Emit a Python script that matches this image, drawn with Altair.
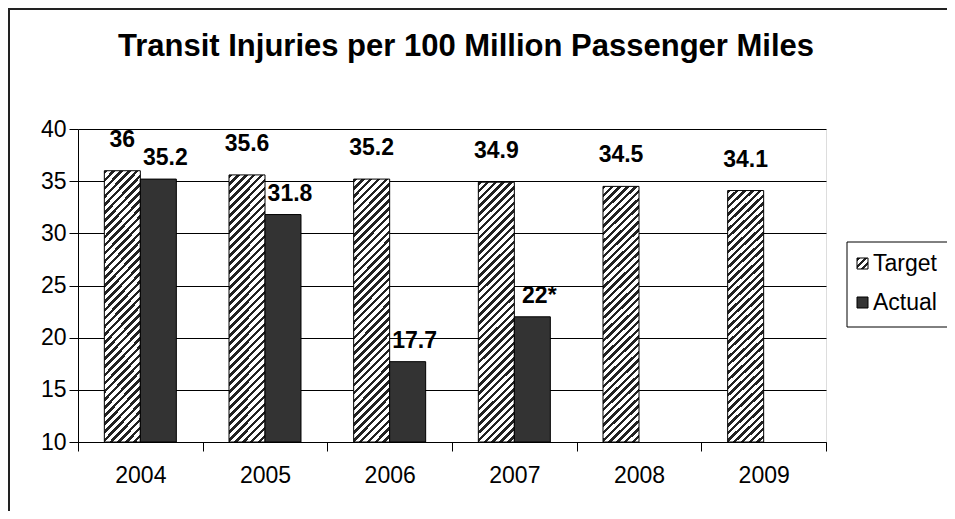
import altair as alt
import pandas as pd

# ---- data ----
years = ["2004", "2005", "2006", "2007", "2008", "2009"]
target = [36, 35.6, 35.2, 34.9, 34.5, 34.1]
target_labels = ["36", "35.6", "35.2", "34.9", "34.5", "34.1"]
actual_years = ["2004", "2005", "2006", "2007"]
actual = [35.2, 31.8, 17.7, 22]
actual_labels = ["35.2", "31.8", "17.7", "22*"]
series = ["Target", "Actual"]
y_ticks = [10, 15, 20, 25, 30, 35, 40]
title_text = "Transit Injuries per 100 Million Passenger Miles"

rows = []
for y, v, l in zip(years, target, target_labels):
    rows.append({"year": y, "series": "Target", "value": v, "label": l})
for y, v, l in zip(actual_years, actual, actual_labels):
    rows.append({"year": y, "series": "Actual", "value": v, "label": l})
df = pd.DataFrame(rows)

FONT = "Liberation Sans"
W, H = 748, 313


def hatch(w, h, period=7.8, frac=0.45, dark="#222222", light="#ffffff"):
    """Diagonal '/' stripes as a hard-stop linear gradient (bounding-box units)."""
    gx, gy = w / h, 1.0
    s = (gx + gy) / (gx * gx + gy * gy)
    n = max(1, round((w + h) / period))
    stops = []
    for i in range(n):
        a = i / n
        b = min(1.0, (i + frac) / n)
        c = min(1.0, (i + 1) / n)
        stops += [
            alt.GradientStop(offset=a, color=dark),
            alt.GradientStop(offset=b, color=dark),
            alt.GradientStop(offset=b, color=light),
            alt.GradientStop(offset=c, color=light),
        ]
    return alt.LinearGradient(gradient="linear", stops=stops,
                              x1=0, y1=0, x2=gx * s, y2=gy * s)


x_enc = alt.X("year:N", sort=years,
              scale=alt.Scale(domain=years, paddingInner=0, paddingOuter=0),
              axis=alt.Axis(labelAngle=0, tickBand="extent", tickSize=9,
                            domainColor="black", tickColor="black",
                            labelFontSize=23, labelFont=FONT, labelColor="black",
                            labelPadding=13, title=None, grid=False))
xo_enc = alt.XOffset("series:N", sort=series,
                     scale=alt.Scale(domain=series, paddingInner=0, paddingOuter=0.7315))
y_enc = alt.Y("value:Q",
              scale=alt.Scale(domain=[10, 40], nice=False, zero=False),
              axis=alt.Axis(values=y_ticks, grid=True, gridColor="black", gridWidth=1,
                            domainColor="black", tickColor="black", tickSize=9,
                            labelFontSize=23, labelFont=FONT, labelColor="black",
                            labelPadding=3, title=None, format="d"))

base = alt.Chart(df)
one = alt.Chart(pd.DataFrame({"k": [0]}))

frame = one.mark_rect(fill="white", fillOpacity=0, stroke="#222222", strokeWidth=2).encode(
    x=alt.value(-69), x2=alt.value(920), y=alt.value(-120), y2=alt.value(450))

target_bars = base.transform_filter(alt.datum.series == "Target").mark_bar(
    fill=hatch(36, 261), stroke="black", strokeWidth=1).encode(
    x=x_enc, xOffset=xo_enc, y=y_enc, y2=alt.datum(10))

actual_bars = base.transform_filter(alt.datum.series == "Actual").mark_bar(
    fill="#333333", stroke="black", strokeWidth=1).encode(
    x=x_enc, xOffset=xo_enc, y=y_enc, y2=alt.datum(10))

target_text = base.transform_filter(alt.datum.series == "Target").mark_text(
    font=FONT, fontSize=23, fontWeight="bold", color="black",
    baseline="bottom", dy=-19).encode(
    x=x_enc, xOffset=xo_enc, y=y_enc, text="label:N")

actual_text = base.transform_filter(alt.datum.series == "Actual").mark_text(
    font=FONT, fontSize=23, fontWeight="bold", color="black",
    baseline="bottom", dx=7, dy=-9).encode(
    x=x_enc, xOffset=xo_enc, y=y_enc, text="label:N")

title = one.mark_text(font=FONT, fontSize=31, fontWeight="bold", color="black",
                      align="center", baseline="middle").encode(
    x=alt.value(388), y=alt.value(-82), text=alt.value(title_text))

legend_box = one.mark_rect(fill="white", stroke="black", strokeWidth=1).encode(
    x=alt.value(769), x2=alt.value(920), y=alt.value(113), y2=alt.value(198))
legend_t = one.mark_rect(fill=hatch(11, 11), stroke="black", strokeWidth=1).encode(
    x=alt.value(779), x2=alt.value(790), y=alt.value(129), y2=alt.value(140))
legend_a = one.mark_rect(fill="#333333", stroke="black", strokeWidth=1).encode(
    x=alt.value(779), x2=alt.value(790), y=alt.value(168), y2=alt.value(179))
legend_t_txt = one.mark_text(font=FONT, fontSize=23, color="black", align="left",
                             baseline="middle").encode(
    x=alt.value(795), y=alt.value(135), text=alt.value(series[0]))
legend_a_txt = one.mark_text(font=FONT, fontSize=23, color="black", align="left",
                             baseline="middle").encode(
    x=alt.value(795), y=alt.value(174), text=alt.value(series[1]))

chart = alt.layer(
    frame, target_bars, actual_bars, target_text, actual_text, title,
    legend_box, legend_t, legend_a, legend_t_txt, legend_a_txt
).properties(
    width=W, height=H,
    autosize=alt.AutoSizeParams(type="none"),
    padding={"left": 70, "top": 121, "right": 121, "bottom": 69},
).configure_view(stroke="#808080", strokeWidth=1).configure(background="white")

chart.save("out.html", embed_options={"renderer": "svg", "actions": False})
